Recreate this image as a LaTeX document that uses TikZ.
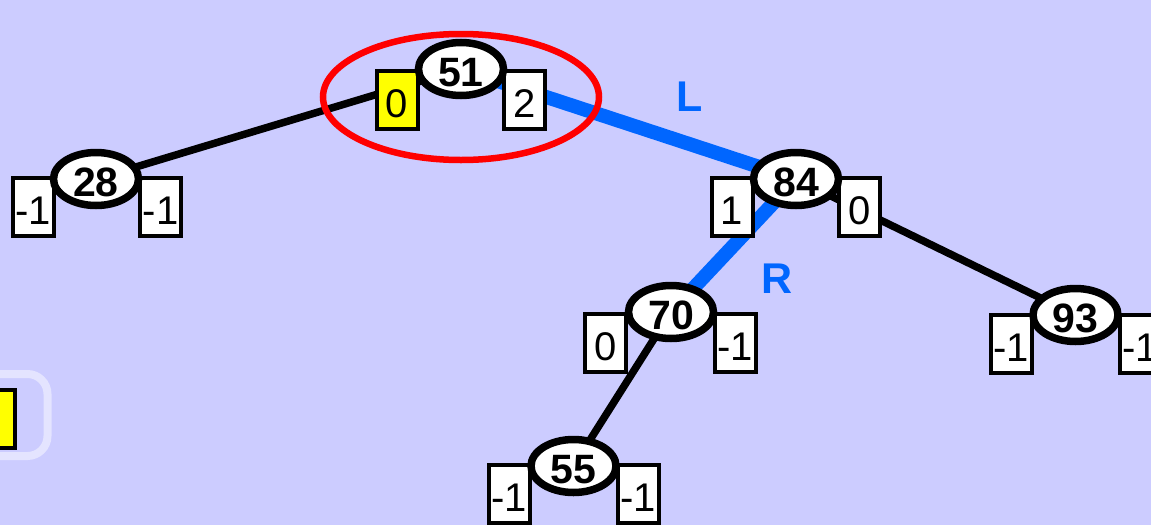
\documentclass[tikz,border=0pt]{standalone}
\usepackage{fontspec}
\setmainfont{Liberation Sans}
\usetikzlibrary{shapes.geometric,calc}
\definecolor{bg}{HTML}{CCCCFF}
\definecolor{frame}{HTML}{E4E4FF}
\definecolor{rot}{HTML}{0066FF}
\definecolor{hl}{HTML}{FFFF00}
\tikzset{
  key/.style={ellipse,draw=black,line width=7.5pt,fill=white,minimum width=85pt,minimum height=53pt,inner sep=0pt,text height=35pt,text depth=0pt,font=\fontsize{41}{41}\selectfont\bfseries},
  bal/.style={rectangle,draw=black,line width=4pt,fill=white,minimum width=41pt,minimum height=58pt,inner sep=0pt,text height=35.5pt,text depth=0pt,font=\fontsize{40}{40}\selectfont},
  edge/.style={line width=7.5pt,black},
  rotedge/.style={line width=14pt,rot},
  rotlabel/.style={text=rot,font=\fontsize{43}{43}\selectfont\bfseries,inner sep=0pt}
}
\begin{document}
\begin{tikzpicture}[x=1pt,y=-1pt]
\useasboundingbox (0,0) rectangle (1151,525);
\clip (0,0) rectangle (1151,525);
\fill[bg] (0,0) rectangle (1151,525);
% bottom-left frame and box
\draw[frame,line width=8pt,rounded corners=20pt] (-60,374) rectangle (47.5,456);
\node[bal,fill=hl,anchor=east] (yb) at (17,418.5) {};
% key nodes (positions)
\coordinate (c51) at (461,69);
\coordinate (c28) at (96,179);
\coordinate (c84) at (796,179);
\coordinate (c70) at (671,312);
\coordinate (c93) at (1075.5,315);
\coordinate (c55) at (573.5,466);
% edges
\draw[edge] (c28) -- (c51);
\draw[rotedge] (c51) -- (c84);
\draw[rotedge] (c84) -- (c70);
\draw[edge] (c84) -- (c93);
\draw[edge] (c70) -- (c55);
% balance boxes
\node[bal,fill=hl] (b51l) at ($(c51)+(-64,31)$) {0};
\node[bal] (b51r) at ($(c51)+(63.5,31)$) {2};
\node[bal] (b28l) at ($(c28)+(-63,28)$) {-1};
\node[bal] (b28r) at ($(c28)+(64.5,28)$) {-1};
\node[bal] (b84l) at ($(c84)+(-64,28)$) {1};
\node[bal] (b84r) at ($(c84)+(63.5,28)$) {0};
\node[bal] (b70l) at ($(c70)+(-65.5,30.5)$) {0};
\node[bal] (b70r) at ($(c70)+(64,30.5)$) {-1};
\node[bal] (b93l) at ($(c93)+(-64.5,28.5)$) {-1};
\node[bal] (b93r) at ($(c93)+(64.5,28.5)$) {-1};
\node[bal] (b55l) at ($(c55)+(-64.5,28)$) {-1};
\node[bal] (b55r) at ($(c55)+(64.5,28)$) {-1};
% key ellipses
\node[key] (n51) at (c51) {51};
\node[key] (n28) at (c28) {28};
\node[key] (n84) at (c84) {84};
\node[key] (n70) at (c70) {70};
\node[key] (n93) at (c93) {93};
\node[key] (n55) at (c55) {55};
% rotation labels
\node[rotlabel] (lL) at (690,97) {L};
\node[rotlabel] (lR) at (777,279) {R};
% red highlight
\node[ellipse,draw=red,line width=6.5pt,minimum width=276pt,minimum height=126pt,inner sep=0pt] (hlring) at (461,97) {};
\end{tikzpicture}
\end{document}
